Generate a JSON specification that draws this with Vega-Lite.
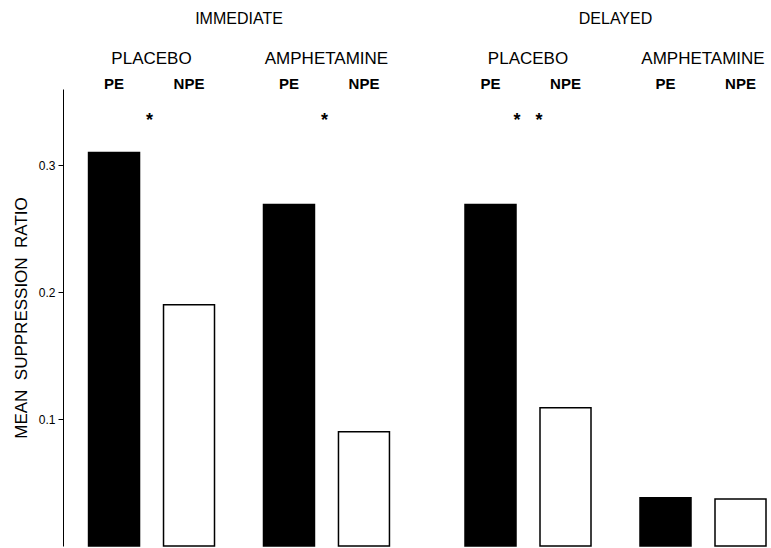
{
  "$schema": "https://vega.github.io/schema/vega-lite/v6.json",
  "autosize": {"type": "pad"},
  "padding": {"left": 12, "top": 11, "right": 0, "bottom": 0},
  "background": "white",
  "config": {
    "view": {"stroke": null},
    "font": "Liberation Sans",
    "concat": {"spacing": 49},
    "axis": {"labelColor": "black", "titleColor": "black", "domainColor": "black", "tickColor": "black", "grid": false}
  },
  "datasets": {
    "bars": [
      {"timing": "IMMEDIATE", "drug": "PLACEBO", "cond": "PE", "ratio": 0.310},
      {"timing": "IMMEDIATE", "drug": "PLACEBO", "cond": "NPE", "ratio": 0.190},
      {"timing": "IMMEDIATE", "drug": "AMPHETAMINE", "cond": "PE", "ratio": 0.269},
      {"timing": "IMMEDIATE", "drug": "AMPHETAMINE", "cond": "NPE", "ratio": 0.090},
      {"timing": "DELAYED", "drug": "PLACEBO", "cond": "PE", "ratio": 0.269},
      {"timing": "DELAYED", "drug": "PLACEBO", "cond": "NPE", "ratio": 0.109},
      {"timing": "DELAYED", "drug": "AMPHETAMINE", "cond": "PE", "ratio": 0.038},
      {"timing": "DELAYED", "drug": "AMPHETAMINE", "cond": "NPE", "ratio": 0.037}
    ],
    "sig": [
      {"timing": "IMMEDIATE", "drug": "PLACEBO", "star": "*"},
      {"timing": "IMMEDIATE", "drug": "AMPHETAMINE", "star": "*"},
      {"timing": "DELAYED", "drug": "PLACEBO", "star": "*\u00a0\u00a0\u00a0*"}
    ]
  },
  "resolve": {"scale": {"x": "independent", "xOffset": "independent"}},
  "hconcat": [
    {
      "width": 352,
      "height": 457,
      "title": {"text": "IMMEDIATE", "fontSize": 16, "fontWeight": "normal", "frame": "group", "anchor": "middle", "baseline": "alphabetic", "offset": 9, "color": "black"},
      "layer": [
        {
          "data": {"name": "bars"},
          "transform": [{"filter": "datum.timing === 'IMMEDIATE'"}],
          "mark": {"type": "bar", "stroke": "black", "strokeWidth": 1.5},
          "encoding": {
            "x": {"field": "drug", "type": "nominal", "sort": ["PLACEBO", "AMPHETAMINE"],
                  "scale": {"type": "band", "domain": ["PLACEBO", "AMPHETAMINE"], "paddingInner": 0.28, "paddingOuter": 0.146},
                  "axis": {"orient": "top", "title": null, "ticks": false, "tickSize": 0, "domain": false, "labelAngle": 0, "labelPadding": 26, "labelBaseline": "alphabetic", "labelFontSize": 17}},
            "xOffset": {"field": "cond", "type": "nominal", "sort": ["PE", "NPE"],
                        "scale": {"type": "band", "domain": ["PE", "NPE"], "paddingInner": 0.32, "paddingOuter": 0}},
            "y": {"field": "ratio", "type": "quantitative",
                  "scale": {"domain": [0, 0.36], "nice": false, "zero": true},
                  "axis": {"values": [0.1, 0.2, 0.3], "format": ".1f", "tickSize": 5, "labelPadding": 3, "labelFontSize": 12,
                           "title": "MEAN\u00a0 SUPPRESSION\u00a0 RATIO", "titleFontSize": 17, "titleFontWeight": "normal", "titlePadding": 8}},
            "fill": {"field": "cond", "type": "nominal", "scale": {"domain": ["PE", "NPE"], "range": ["black", "white"]}, "legend": null}
          }
        },
        {
          "data": {"name": "bars"},
          "transform": [{"filter": "datum.timing === 'IMMEDIATE'"}],
          "mark": {"type": "text", "baseline": "alphabetic", "fontSize": 15, "fontWeight": "bold", "color": "black"},
          "encoding": {
            "x": {"field": "drug", "type": "nominal", "sort": ["PLACEBO", "AMPHETAMINE"]},
            "xOffset": {"field": "cond", "type": "nominal", "sort": ["PE", "NPE"]},
            "y": {"datum": 0.36},
            "text": {"field": "cond"}
          }
        },
        {
          "data": {"name": "sig"},
          "transform": [{"filter": "datum.timing === 'IMMEDIATE'"}],
          "mark": {"type": "text", "baseline": "alphabetic", "fontSize": 18, "fontWeight": "bold", "color": "black", "dx": -2},
          "encoding": {
            "x": {"field": "drug", "type": "nominal", "sort": ["PLACEBO", "AMPHETAMINE"]},
            "y": {"datum": 0.331},
            "text": {"field": "star"}
          }
        },
        {
          "mark": {"type": "rule", "color": "black", "strokeWidth": 1.2},
          "encoding": {"y": {"datum": 0}}
        }
      ]
    },
    {
      "width": 301,
      "height": 457,
      "title": {"text": "DELAYED", "fontSize": 16, "fontWeight": "normal", "frame": "group", "anchor": "middle", "baseline": "alphabetic", "offset": 9, "color": "black"},
      "layer": [
        {
          "data": {"name": "bars"},
          "transform": [{"filter": "datum.timing === 'DELAYED'"}],
          "mark": {"type": "bar", "stroke": "black", "strokeWidth": 1.5},
          "encoding": {
            "x": {"field": "drug", "type": "nominal", "sort": ["PLACEBO", "AMPHETAMINE"],
                  "scale": {"type": "band", "domain": ["PLACEBO", "AMPHETAMINE"], "paddingInner": 0.28, "paddingOuter": 0},
                  "axis": {"orient": "top", "title": null, "ticks": false, "tickSize": 0, "domain": false, "labelAngle": 0, "labelPadding": 26, "labelBaseline": "alphabetic", "labelFontSize": 17}},
            "xOffset": {"field": "cond", "type": "nominal", "sort": ["PE", "NPE"],
                        "scale": {"type": "band", "domain": ["PE", "NPE"], "paddingInner": 0.32, "paddingOuter": 0}},
            "y": {"field": "ratio", "type": "quantitative",
                  "scale": {"domain": [0, 0.36], "nice": false, "zero": true},
                  "axis": null},
            "fill": {"field": "cond", "type": "nominal", "scale": {"domain": ["PE", "NPE"], "range": ["black", "white"]}, "legend": null}
          }
        },
        {
          "data": {"name": "bars"},
          "transform": [{"filter": "datum.timing === 'DELAYED'"}],
          "mark": {"type": "text", "baseline": "alphabetic", "fontSize": 15, "fontWeight": "bold", "color": "black"},
          "encoding": {
            "x": {"field": "drug", "type": "nominal", "sort": ["PLACEBO", "AMPHETAMINE"]},
            "xOffset": {"field": "cond", "type": "nominal", "sort": ["PE", "NPE"]},
            "y": {"datum": 0.36},
            "text": {"field": "cond"}
          }
        },
        {
          "data": {"name": "sig"},
          "transform": [{"filter": "datum.timing === 'DELAYED'"}],
          "mark": {"type": "text", "baseline": "alphabetic", "fontSize": 18, "fontWeight": "bold", "color": "black"},
          "encoding": {
            "x": {"field": "drug", "type": "nominal", "sort": ["PLACEBO", "AMPHETAMINE"]},
            "y": {"datum": 0.331},
            "text": {"field": "star"}
          }
        }
      ]
    }
  ]
}
